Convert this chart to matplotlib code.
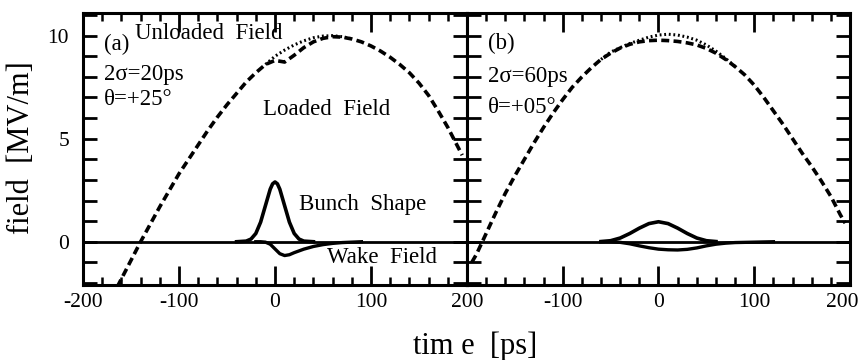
import numpy as np
import matplotlib
matplotlib.use("Agg")
import matplotlib.pyplot as plt
import matplotlib.transforms as mtransforms
from matplotlib.ticker import MultipleLocator

plt.rcParams['font.family'] = ['Liberation Serif', 'DejaVu Serif']

# time grid for the rf field curves [ps]
t_field = [-195, -190, -180, -170, -160, -150, -140, -130, -120, -110, -100,
           -90, -80, -70, -60, -50, -40, -30, -20, -10, 0,
           10, 20, 30, 40, 50, 60, 70, 80, 90, 100,
           110, 120, 130, 140, 150, 160, 170, 180, 190, 195]

# panel (a): 2sigma = 20 ps, theta = +25 deg
unloaded_a = [-4.8, -4.3, -3.5, -2.7, -1.8, -0.9, 0.0, 0.85, 1.7, 2.5, 3.3,
              4.0, 4.7, 5.4, 6.05, 6.65, 7.2, 7.75, 8.2, 8.6, 9.0,
              9.3, 9.55, 9.75, 9.9, 9.98, 10.0, 9.95, 9.85, 9.7, 9.5,
              9.25, 8.95, 8.6, 8.2, 7.7, 7.1, 6.35, 5.55, 4.65, 4.2]
loaded_a = [-4.8, -4.3, -3.5, -2.7, -1.8, -0.9, 0.0, 0.85, 1.7, 2.5, 3.3,
            4.0, 4.7, 5.4, 6.05, 6.65, 7.2, 7.75, 8.2, 8.6, 8.8,
            8.72, 9.05, 9.42, 9.7, 9.87, 9.95, 9.93, 9.84, 9.7, 9.5,
            9.25, 8.95, 8.6, 8.2, 7.7, 7.1, 6.35, 5.55, 4.65, 4.2]
t_bunch_a = [-40, -30, -25, -20, -15, -10, -5, -2.5, 0, 2.5, 5, 10, 15, 20, 25, 30, 40]
bunch_a = [0, 0.03, 0.13, 0.4, 0.95, 1.75, 2.55, 2.81, 2.9, 2.81, 2.55, 1.75, 0.95, 0.4, 0.13, 0.03, 0]
t_wake_a = [-20, -15, -10, -5, 0, 5, 10, 15, 20, 30, 40, 50, 60, 70, 80, 90]
wake_a = [0, 0, -0.02, -0.12, -0.35, -0.58, -0.67, -0.63, -0.53, -0.36, -0.23, -0.14, -0.08, -0.04, -0.02, 0]

# panel (b): 2sigma = 60 ps, theta = +05 deg
unloaded_b = [-1.0, -0.6, 0.4, 1.4, 2.35, 3.2, 4.0, 4.8, 5.55, 6.25, 6.9,
              7.5, 8.0, 8.45, 8.85, 9.2, 9.42, 9.62, 9.78, 9.93, 10.03,
              10.07, 10.03, 9.93, 9.78, 9.55, 9.25, 8.9, 8.5, 8.1, 7.6,
              7.0, 6.35, 5.7, 5.0, 4.3, 3.65, 2.95, 2.2, 1.3, 0.9]
loaded_b = [-1.0, -0.6, 0.4, 1.4, 2.35, 3.2, 4.0, 4.8, 5.55, 6.25, 6.9,
            7.5, 8.0, 8.45, 8.85, 9.15, 9.4, 9.58, 9.7, 9.76, 9.78,
            9.76, 9.72, 9.65, 9.55, 9.38, 9.15, 8.85, 8.5, 8.1, 7.6,
            7.0, 6.35, 5.7, 5.0, 4.3, 3.65, 2.95, 2.2, 1.3, 0.9]
t_bunch_b = [-60, -50, -40, -30, -20, -10, 0, 10, 20, 30, 40, 50, 60]
bunch_b = [0.01, 0.05, 0.18, 0.4, 0.66, 0.88, 0.97, 0.88, 0.66, 0.4, 0.18, 0.05, 0.01]
t_wake_b = [-60, -50, -40, -30, -20, -10, 0, 10, 20, 30, 40, 50, 60, 70, 80, 100, 120]
wake_b = [0, 0, -0.03, -0.1, -0.2, -0.29, -0.36, -0.39, -0.4, -0.37, -0.3, -0.2, -0.12, -0.07, -0.04, -0.02, 0]

xticks = [-200, -100, 0, 100, 200]
xlabels_a = ["-200", "-100", "0", "100", "200"]
xlabels_b = ["", "-100", "0", "100", "200"]
yticks = [0, 5, 10]
ylabels = ["0", "5", "10"]

notes_a = ["(a)", "2\u03c3=20ps", "\u03b8=+25\u00b0"]
notes_b = ["(b)", "2\u03c3=60ps", "\u03b8=+05\u00b0"]


def only_where_different(u, l):
    u = np.array(u, dtype=float)
    l = np.array(l, dtype=float)
    d = np.abs(u - l) > 0.01
    keep = d | np.roll(d, 1) | np.roll(d, -1)
    return np.where(keep, u, np.nan)


def draw_panel(ax, unloaded, loaded, tb, bunch, tw, wake, xlabels):
    ax.axhline(0, color="black", lw=2.0, zorder=1)
    ax.plot(t_field, only_where_different(unloaded, loaded), color="black",
            lw=2.2, linestyle=(0, (0.6, 0.9)), zorder=2)
    ax.plot(t_field, loaded, color="black", lw=2.6, linestyle=(0, (2.2, 1.2)), zorder=3)
    ax.plot(tb, bunch, color="black", lw=2.6, zorder=3)
    ax.plot(tw, wake, color="black", lw=2.4, zorder=3)
    ax.set_xlim(-200, 200)
    ax.set_ylim(-2.1, 11.1)
    ax.set_xticks(xticks)
    ax.set_xticklabels(xlabels)
    ax.xaxis.set_minor_locator(MultipleLocator(20))
    ax.set_yticks(yticks)
    ax.yaxis.set_minor_locator(MultipleLocator(1))
    ax.tick_params(axis="x", which="major", direction="in", length=14, width=2,
                   top=True, bottom=True, labelsize=15.5, pad=6)
    ax.tick_params(axis="x", which="minor", direction="in", length=5.5, width=1.8,
                   top=True, bottom=True)
    ax.tick_params(axis="y", which="both", direction="in", length=10, width=2,
                   left=True, right=True, labelsize=15.5, pad=10)
    for s in ax.spines.values():
        s.set_linewidth(2.2)


fig = plt.figure(figsize=(8.64, 3.6), dpi=100)
fig.set_facecolor("white")

ax_a = fig.add_axes([0.0961, 0.2083, 0.4444, 0.7556])
ax_b = fig.add_axes([0.5405, 0.2083, 0.4433, 0.7556])

draw_panel(ax_a, unloaded_a, loaded_a, t_bunch_a, bunch_a, t_wake_a, wake_a, xlabels_a)
draw_panel(ax_b, unloaded_b, loaded_b, t_bunch_b, bunch_b, t_wake_b, wake_b, xlabels_b)
ax_a.set_yticklabels(ylabels)
ax_b.set_yticklabels([])

# last tick label sits at the figure edge; nudge it in so it is not cut
last = ax_b.get_xticklabels()[-1]
last.set_transform(last.get_transform() +
                   mtransforms.ScaledTranslation(-8 / 100, 0, fig.dpi_scale_trans))

fs = 16.5
ax_a.text(-178, 9.55, notes_a[0], fontsize=fs, va="center")
ax_a.text(-146, 10.1, "Unloaded  Field", fontsize=fs, va="center")
ax_a.text(-178, 8.1, notes_a[1], fontsize=fs, va="center")
ax_a.text(-178, 6.9, notes_a[2], fontsize=fs, va="center")
ax_a.text(-13, 6.4, "Loaded  Field", fontsize=fs, va="center")
ax_a.text(25, 1.8, "Bunch  Shape", fontsize=fs, va="center")
ax_a.text(54, -0.78, "Wake  Field", fontsize=fs, va="center")

ax_b.text(-178, 9.6, notes_b[0], fontsize=fs, va="center")
ax_b.text(-178, 8.0, notes_b[1], fontsize=fs, va="center")
ax_b.text(-178, 6.5, notes_b[2], fontsize=fs, va="center")

fig.text(22 / 864, 0.589, "field  [MV/m]", rotation=90, fontsize=22,
         ha="center", va="center")
fig.text(475 / 864, 0.038, "tim e  [ps]", fontsize=22,
         ha="center", va="center")

fig.savefig("out.png", dpi=100, facecolor="white")
